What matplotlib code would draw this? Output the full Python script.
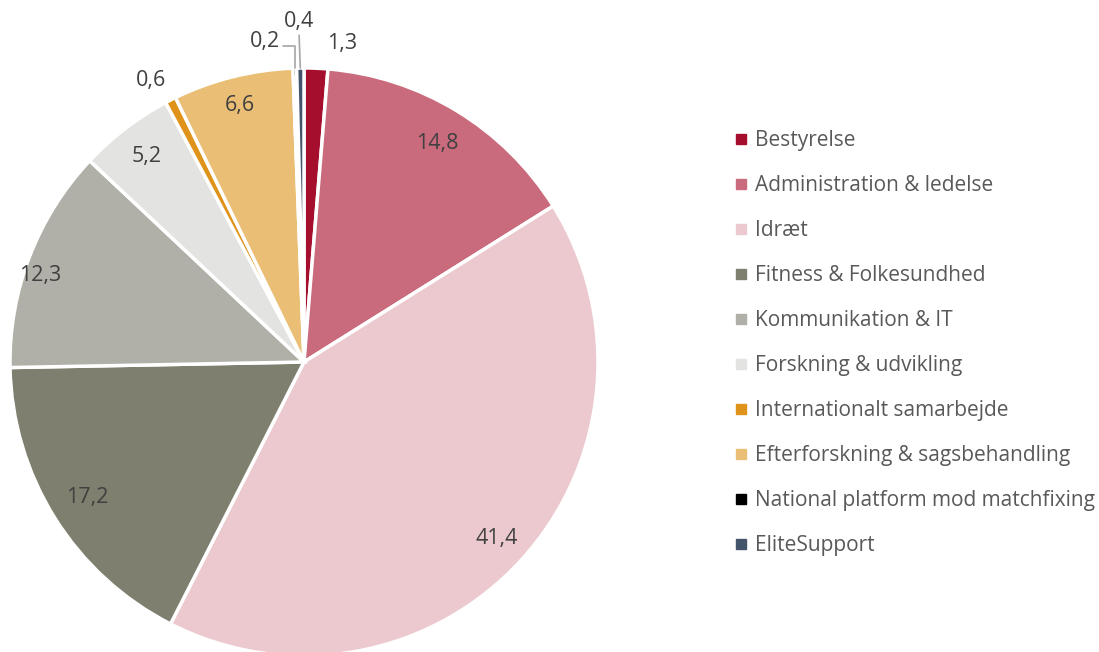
import numpy as np
import matplotlib
matplotlib.use('Agg')
import matplotlib.pyplot as plt
from matplotlib.lines import Line2D

plt.rcParams['font.family'] = ['Open Sans', 'DejaVu Sans']

categories = ['Bestyrelse', 'Administration & ledelse', 'Idræt', 'Fitness & Folkesundhed',
              'Kommunikation & IT', 'Forskning & udvikling', 'Internationalt samarbejde',
              'Efterforskning & sagsbehandling', 'National platform mod matchfixing', 'EliteSupport']
values = [1.3, 14.8, 41.4, 17.2, 12.3, 5.2, 0.6, 6.6, 0.2, 0.4]
colors = ['#A50E2D', '#C96B7C', '#EBC9CF', '#7F7F6F', '#B0B0A8',
          '#E3E3E1', '#E0931A', '#EABE75', '#000000', '#44546A']

W, H = 1099, 652
fig = plt.figure(figsize=(W / 100, H / 100), dpi=100)
ax = fig.add_axes([0, 0, 1, 1])

cx, cy, R = 304, H - 362, 294
wedges, _ = ax.pie(values, colors=colors, startangle=90, counterclock=False,
                   center=(cx, cy), radius=R,
                   wedgeprops=dict(edgecolor='white', linewidth=2.5))
ax.set_xlim(0, W)
ax.set_ylim(0, H)
ax.set_aspect('equal')
ax.axis('off')

# label placement: radius fraction and angle nudge (deg) per slice
cum = np.cumsum([0] + values[:-1])
mids = np.deg2rad(90 - 3.6 * (cum + np.array(values) / 2))
lab_r = [1.09, 0.87, 0.89, 0.87, 0.945, 0.88, 1.09, 0.9, None, None]
lab_da = [-4.5, 0, 0, 0, 3.0, 0, 1.6, 0, 0, 0]
txt = [f'{v:.1f}'.replace('.', ',') for v in values]
for i, a in enumerate(mids):
    if lab_r[i] is None:
        continue
    a = a + np.deg2rad(lab_da[i])
    ax.text(cx + lab_r[i] * R * np.cos(a), cy + lab_r[i] * R * np.sin(a), txt[i],
            ha='center', va='center', fontsize=15.5, color='#404040')

# small slices with leader lines
edge = lambda a: (cx + R * np.cos(a), cy + R * np.sin(a))
ax.annotate(txt[8], xy=edge(mids[8]), xytext=(265, H - 42), ha='center', va='center',
            fontsize=15.5, color='#404040',
            arrowprops=dict(arrowstyle='-', color='#A6A6A6', lw=1.2, shrinkA=0, shrinkB=0,
                            relpos=(1.0, 0.3),
                            connectionstyle='angle,angleA=0,angleB=90,rad=0'))
ax.annotate(txt[9], xy=edge(mids[9]), xytext=(299, H - 22), ha='center', va='center',
            fontsize=15.5, color='#404040',
            arrowprops=dict(arrowstyle='-', color='#A6A6A6', lw=1.2, shrinkA=0, shrinkB=0,
                            relpos=(0.5, 0.0)))

handles = [Line2D([], [], marker='s', ls='none', markersize=7, color=c) for c in colors]
fig.legend(handles, categories, loc='upper left', bbox_to_anchor=(727 / W, 1 - 122 / H),
           frameon=False, fontsize=15, labelcolor='#595959', handlelength=0.55,
           handletextpad=0.4, labelspacing=1.15, borderaxespad=0)

fig.savefig('out.png', dpi=100)
